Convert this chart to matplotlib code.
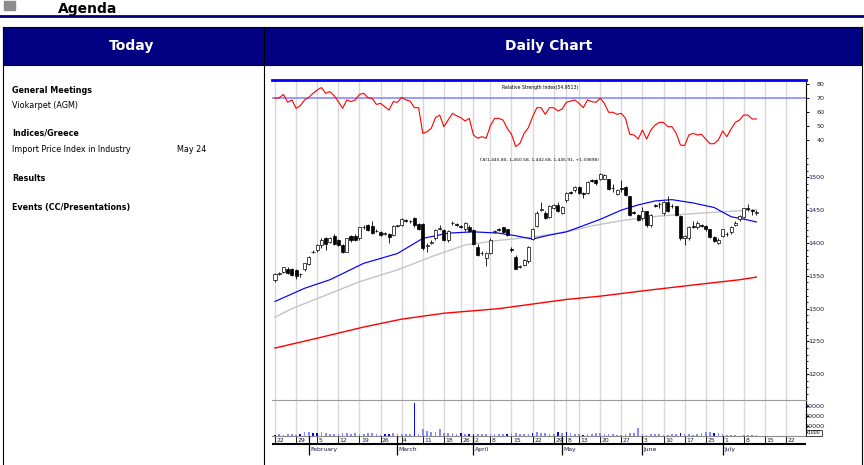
import numpy as np
import matplotlib.pyplot as plt

# ---- data (trading-day index 0 = 22 Jan) ----
c_open = [1343, 1353, 1356, 1361, 1361, 1359, 1352, 1360, 1368, 1386,
          1389, 1397, 1407, 1402, 1410, 1404, 1397, 1387, 1411, 1410,
          1407, 1424, 1427, 1426, 1419, 1417, 1414, 1414, 1412, 1426,
          1427, 1435, 1434, 1438, 1429, 1429, 1396, 1400, 1407, 1422,
          1420, 1404, 1430, 1429, 1426, 1421, 1425, 1420, 1394, 1384,
          1377, 1384, 1417, 1421, 1424, 1421, 1391, 1379, 1364, 1366,
          1372, 1406, 1426, 1450, 1446, 1440, 1453, 1458, 1446, 1465,
          1477, 1480, 1485, 1476, 1476, 1496, 1496, 1498, 1498, 1497,
          1484, 1475, 1483, 1486, 1471, 1447, 1443, 1438, 1448, 1427,
          1458, 1459, 1445, 1463, 1456, 1456, 1441, 1408, 1407, 1426,
          1424, 1427, 1426, 1421, 1409, 1400, 1411, 1414, 1416, 1428,
          1436, 1440, 1453, 1450, 1445.80]
c_high = [1355, 1356, 1364, 1363, 1362, 1360, 1355, 1370, 1380, 1390,
          1399, 1407, 1409, 1409, 1413, 1406, 1398, 1408, 1412, 1414,
          1425, 1427, 1429, 1434, 1421, 1418, 1416, 1415, 1427, 1428,
          1438, 1437, 1435, 1439, 1430, 1430, 1400, 1405, 1421, 1427,
          1421, 1420, 1433, 1431, 1428, 1432, 1427, 1422, 1399, 1388,
          1386, 1407, 1420, 1423, 1425, 1422, 1394, 1381, 1367, 1376,
          1395, 1423, 1448, 1463, 1448, 1458, 1460, 1462, 1457, 1477,
          1479, 1487, 1487, 1478, 1495, 1498, 1497, 1507, 1505, 1498,
          1490, 1482, 1496, 1487, 1472, 1449, 1444, 1455, 1449, 1444,
          1460, 1463, 1464, 1472, 1459, 1457, 1442, 1412, 1426, 1434,
          1433, 1429, 1427, 1422, 1410, 1407, 1422, 1416, 1426, 1434,
          1443, 1454, 1460, 1452, 1450.58]
c_low = [1341, 1351, 1354, 1352, 1349, 1345, 1348, 1358, 1367, 1384,
         1387, 1393, 1389, 1400, 1397, 1395, 1385, 1386, 1402, 1403,
         1405, 1422, 1418, 1413, 1416, 1410, 1412, 1400, 1410, 1424,
         1426, 1432, 1431, 1425, 1420, 1390, 1387, 1398, 1405, 1420,
         1403, 1402, 1428, 1426, 1423, 1419, 1417, 1397, 1380, 1382,
         1365, 1383, 1415, 1418, 1415, 1410, 1386, 1360, 1362, 1365,
         1370, 1404, 1424, 1448, 1436, 1438, 1451, 1447, 1444, 1463,
         1474, 1478, 1474, 1469, 1474, 1493, 1489, 1496, 1497, 1480,
         1478, 1473, 1478, 1471, 1441, 1444, 1433, 1435, 1425, 1425,
         1455, 1454, 1443, 1447, 1454, 1441, 1405, 1397, 1405, 1423,
         1422, 1424, 1419, 1407, 1401, 1399, 1409, 1410, 1414, 1426,
         1434, 1438, 1448, 1443, 1442.68]
c_close = [1353, 1354, 1363, 1354, 1351, 1350, 1353, 1369, 1378, 1387,
           1397, 1405, 1399, 1407, 1399, 1397, 1387, 1407, 1404, 1405,
           1424, 1425, 1420, 1415, 1418, 1412, 1415, 1409, 1426, 1427,
           1436, 1434, 1433, 1427, 1422, 1392, 1397, 1402, 1420, 1423,
           1405, 1419, 1431, 1428, 1425, 1431, 1419, 1398, 1382, 1385,
           1384, 1405, 1418, 1420, 1417, 1412, 1389, 1361, 1365, 1374,
           1394, 1421, 1446, 1451, 1438, 1456, 1458, 1449, 1455, 1476,
           1476, 1485, 1476, 1475, 1493, 1495, 1491, 1505, 1503, 1482,
           1483, 1480, 1482, 1473, 1443, 1446, 1435, 1448, 1427, 1443,
           1457, 1460, 1463, 1449, 1457, 1443, 1407, 1410, 1425, 1425,
           1431, 1426, 1421, 1409, 1403, 1405, 1421, 1413, 1425, 1431,
           1441, 1453, 1452, 1448, 1445.91]

rsi = [69.9, 70.3, 72.7, 67.0, 68.7, 62.6, 64.6, 68.7, 70.6, 73.5,
       75.9, 77.6, 73.5, 74.7, 71.8, 67.5, 62.6, 68.7, 67.5, 68.7,
       72.7, 73.5, 70.3, 69.9, 65.5, 66.2, 63.8, 61.4, 67.5, 67.0,
       70.6, 68.7, 67.9, 63.1, 63.1, 44.6, 45.8, 48.2, 55.9, 57.8,
       49.4, 54.2, 59.0, 57.3, 55.9, 53.5, 55.4, 43.4, 41.0, 42.2,
       41.0, 50.1, 55.4, 55.4, 54.2, 48.2, 43.9, 35.0, 37.4, 44.6,
       48.7, 56.6, 63.1, 63.1, 58.3, 63.1, 63.1, 60.7, 62.2, 67.0,
       67.9, 68.7, 66.2, 63.1, 68.7, 67.5, 67.0, 69.9, 66.2, 59.8,
       59.8, 58.3, 59.0, 55.4, 43.9, 43.4, 40.5, 47.0, 40.5, 47.0,
       50.6, 52.5, 52.5, 49.4, 49.4, 44.6, 36.2, 35.7, 43.4, 44.6,
       43.4, 43.9, 40.5, 37.1, 37.1, 39.8, 46.3, 42.2, 47.7, 52.5,
       54.2, 57.8, 57.8, 54.9, 55.0]

volume = [1000, 2000, 1000, 2000, 2000, 1000, 2000, 4000, 4000, 3000,
          3000, 4000, 3000, 2000, 2000, 2000, 3000, 3000, 2000, 3000,
          2000, 2000, 3000, 3000, 2000, 1000, 2000, 2000, 3000, 2000,
          2000, 2000, 2000, 33500, 2000, 7000, 5000, 4000, 4000, 7000,
          3000, 3000, 3000, 2000, 3000, 2000, 2000, 2000, 2000, 2000,
          2000, 2000, 2000, 2000, 2000, 2000, 3000, 3000, 2000, 2000,
          2000, 3000, 4000, 3000, 3000, 2000, 2000, 4000, 3000, 4000,
          3000, 2000, 2000, 1000, 2000, 2000, 3000, 3000, 2000, 2000,
          2000, 1000, 1000, 2000, 3000, 3000, 8000, 2000, 1000, 2000,
          2000, 2000, 1000, 1000, 2000, 2000, 3000, 2000, 2000, 1000,
          2000, 3000, 4000, 4000, 3000, 3000, 2000, 1000, 1000, 1000,
          500, 1000, 1000, 1000, 1000]
vol_dark = [0, 6, 9, 10, 26, 27, 33, 44, 46, 47, 55, 61, 67, 69, 73, 96, 104]

blue_x = [0, 7, 13, 21, 29, 35, 41, 47, 53, 57, 61, 65, 69, 72, 77, 82, 86, 90, 94, 99, 104, 108, 112, 114]
blue_y = [1311, 1331, 1344, 1369, 1384, 1407, 1415, 1417, 1415, 1411, 1406, 1412, 1417, 1424, 1436, 1450,
          1458, 1464, 1466, 1461, 1454, 1440, 1435, 1432]
gray_x = [0, 4, 13, 20, 29, 37, 45, 53, 61, 69, 75, 83, 91, 102, 110, 114]
gray_y = [1287, 1300, 1323, 1341, 1359, 1379, 1397, 1404, 1409, 1417, 1426, 1435, 1441, 1446, 1449, 1451]
red_x = [0, 10, 21, 30, 40, 53, 69, 77, 87, 99, 110, 114]
red_y = [1240, 1255, 1272, 1284, 1293, 1300, 1314, 1319, 1327, 1336, 1344, 1348]

week_idx = [0, 5, 10, 15, 20, 25, 30, 35, 40, 44, 47, 51, 56, 61, 66, 69, 72, 77, 82, 87, 92, 97, 102, 106, 111, 116, 121]
week_lbl = ['22', '29', '5', '12', '19', '26', '4', '11', '18', '26', '2', '8', '15', '22', '29', '8',
            '13', '20', '27', '3', '10', '17', '25', '1', '8', '15', '22']
month_idx = [8, 29, 47, 68, 87, 106]
month_lbl = ['February', 'March', 'April', 'May', 'June', 'July']

agenda_left = [('General Meetings', True, 90), ('Viokarpet (AGM)', False, 105),
               ('Indices/Greece', True, 133), ('Import Price Index in Industry', False, 149),
               ('Results', True, 178), ('Events (CC/Presentations)', True, 207)]

# ---- page ----
W, H = 864, 465
NAVY = '#000080'
SMALL = ['Liberation Sans Narrow', 'DejaVu Sans']
fig = plt.figure(figsize=(W / 100, H / 100), dpi=100)


def px_axes(x, y, w, h):
    return fig.add_axes([x / W, 1 - (y + h) / H, w / W, h / H])


def ftext(x, y, s, **kw):
    fig.text(x / W, 1 - y / H, s, **kw)


bg = px_axes(0, 0, W, H)
bg.set_xlim(0, W)
bg.set_ylim(H, 0)
bg.axis('off')
bg.add_patch(plt.Rectangle((4, 1), 11, 9, color='#8c8c8c'))
bg.plot([0, W], [16, 16], color=NAVY, lw=2.0)
bg.add_patch(plt.Rectangle((3, 27), 859, 38, facecolor=NAVY, edgecolor='black', lw=0.8))
bg.plot([3, 3], [27, H], color='black', lw=0.8)
bg.plot([862, 862], [27, H], color='black', lw=0.8)
bg.plot([264, 264], [27, H], color='black', lw=0.8)

ftext(58, 12.5, 'Agenda', fontsize=10, fontweight='bold', va='baseline')
ftext(132, 46, 'Today', fontsize=10, fontweight='bold', color='white', ha='center', va='center')
ftext(549, 46, 'Daily Chart', fontsize=10, fontweight='bold', color='white', ha='center', va='center')
for s, b, y in agenda_left:
    ftext(12, y, s, fontsize=5.8, fontweight='bold' if b else 'normal', va='center')
ftext(177, 149, 'May 24', fontsize=5.8, va='center')

# ---- chart axes ----
X0, X1, PXD = 272, 805.7, 4.223
xlim = ((X0 - 275) / PXD, (X1 - 275) / PXD)
cw = X1 - X0
ax_rsi = px_axes(X0, 80, cw, 75)
ax_px = px_axes(X0, 155, cw, 245.3)
ax_vol = px_axes(X0, 400.3, cw, 36)
ax_dt = px_axes(X0, 436.3, cw, 20)

for ax in (ax_rsi, ax_px, ax_vol):
    ax.set_facecolor('none')
    ax.set_xlim(*xlim)
    ax.set_xticks(week_idx)
    ax.tick_params(axis='x', length=0, labelbottom=False)
    ax.grid(axis='x', color='#d8d8d8', lw=1.0)
    ax.set_axisbelow(True)
    ax.yaxis.tick_right()
    for sp in ('left', 'bottom', 'top'):
        ax.spines[sp].set_visible(False)
    ax.spines['right'].set_linewidth(0.8)
    ax.tick_params(axis='y', which='major', length=2.5, width=0.7, pad=11, labelsize=4.6,
                   labelcolor='#1a1a40')
    ax.tick_params(axis='y', which='minor', length=1.5, width=0.6)

idx = np.arange(len(c_close))

# RSI
ax_rsi.set_ylim(28.95, 83.1)
ax_rsi.spines['top'].set_visible(True)
ax_rsi.spines['top'].set_color('#0000ff')
ax_rsi.spines['top'].set_linewidth(2.0)
ax_rsi.axhline(70, color='#8080ff', lw=1.1)
ax_rsi.plot(idx, rsi, color='#ff0000', lw=0.8)
ax_rsi.set_yticks([40, 50, 60, 70, 80])

# price
ax_px.set_ylim(1160.4, 1534)
ax_px.set_yticks(range(1200, 1501, 50))
ax_px.set_yticks(range(1170, 1531, 10), minor=True)
ax_px.plot(red_x, red_y, color='#ff0000', lw=1.0)
ax_px.plot(gray_x, gray_y, color='#c4c4c4', lw=1.0)
ax_px.plot(blue_x, blue_y, color='#0000ff', lw=0.85)
o, c = np.array(c_open), np.array(c_close)
up = c >= o
ax_px.vlines(idx, c_low, c_high, color='black', lw=0.6, zorder=3)
blo = np.minimum(o, c)
bh = np.maximum(np.abs(c - o), 0.9)
ax_px.bar(idx[up], bh[up], bottom=blo[up], width=0.72, facecolor='white', edgecolor='black', lw=0.5, zorder=4)
ax_px.bar(idx[~up], bh[~up], bottom=blo[~up], width=0.72, facecolor='black', edgecolor='black', lw=0.5, zorder=4)

# volume
ax_vol.set_ylim(0, 36000)
ax_vol.spines['top'].set_visible(True)
ax_vol.spines['top'].set_color('#9a9a9a')
ax_vol.spines['bottom'].set_visible(True)
ax_vol.spines['bottom'].set_color('#8a8a8a')
vcol = ['#0000ff' if i in vol_dark else '#8888ff' for i in idx]
ax_vol.bar(idx, volume, width=0.4, color=vcol)
ax_vol.set_yticks([10000, 20000, 30000])
ax_vol.set_yticklabels(['10000', '20000', '30000'])
ax_vol.text(1.001, 0.03, 'x1000', transform=ax_vol.transAxes, fontsize=3.4, family=SMALL,
            va='bottom', ha='left', bbox=dict(boxstyle='square,pad=0.15', fc='white', ec='black', lw=0.5))

for ax in (ax_rsi, ax_px, ax_vol):
    for lb in ax.get_yticklabels():
        lb.set_family(SMALL)
        lb.set_horizontalalignment('right')

# dates
ax_dt.set_xlim(*xlim)
ax_dt.set_ylim(20, 0)
ax_dt.axis('off')
ax_dt.vlines(week_idx, 0, 7.7, color='#d8d8d8', lw=1.0)
ax_dt.vlines(week_idx, 0, 7.7, color='black', lw=0.6)
ax_dt.axhline(7.7, color='black', lw=1.5)
ax_dt.vlines(month_idx, 0, 19, color='black', lw=0.9)
for xi, s in zip(week_idx, week_lbl):
    ax_dt.text(xi + 0.35, 4.2, s, fontsize=4.4, family=SMALL, color='#1a1a40', va='center', ha='left')
for xi, s in zip(month_idx, month_lbl):
    ax_dt.text(xi + 0.3, 13, s, fontsize=4.4, family=SMALL, color='#1a1a40', va='center', ha='left')

ftext(502, 87, 'Relative Strength Index(54.9513)', fontsize=3.3, family=SMALL, va='center')
ftext(480, 160, 'ΓΔ(1,445.80, 1,450.58, 1,442.68, 1,445.91, +1.59898)', fontsize=3.15, family=SMALL,
      va='center')

fig.savefig('out.png', dpi=100, facecolor='white')
